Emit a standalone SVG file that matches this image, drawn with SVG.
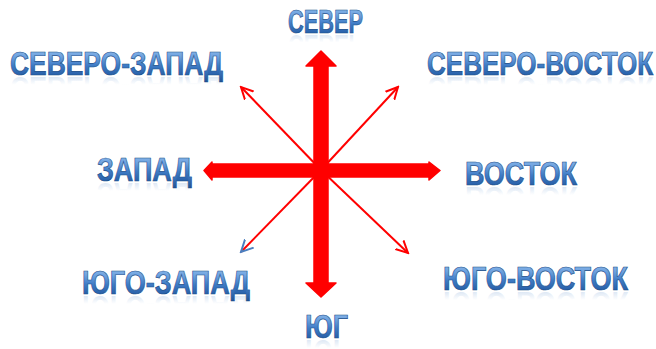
<svg xmlns="http://www.w3.org/2000/svg" xmlns:xlink="http://www.w3.org/1999/xlink" width="656" height="349" viewBox="0 0 656 349">
<style>
.lbl{font-family:"Liberation Sans",Arial,sans-serif;font-weight:bold;font-size:33px;text-anchor:middle}
.face{fill:url(#tg);stroke:#1d4f8c;stroke-width:0.7}
.refl{fill:url(#rg);stroke:none}
.thick{fill:#ff0000;stroke:#ff0000;stroke-width:1.5;stroke-linejoin:round}
.thin{stroke:#ff0000;stroke-width:2;fill:none}
</style>
<defs>
<linearGradient id="tg" x1="0" y1="0" x2="0" y2="1">
<stop offset="0" stop-color="#9cc4ee"/>
<stop offset="0.3" stop-color="#6fa3e0"/>
<stop offset="0.55" stop-color="#3f7cc6"/>
<stop offset="0.8" stop-color="#2a62aa"/>
<stop offset="1" stop-color="#1e4f90"/>
</linearGradient>
<linearGradient id="rg" x1="0" y1="0" x2="0" y2="1">
<stop offset="0" stop-color="#4f86c8" stop-opacity="0"/>
<stop offset="0.6" stop-color="#4f86c8" stop-opacity="0"/>
<stop offset="1" stop-color="#4f86c8" stop-opacity="0.35"/>
</linearGradient>
<marker id="ar" viewBox="0 0 14 14" refX="12" refY="7" markerWidth="14" markerHeight="14" markerUnits="userSpaceOnUse" orient="auto">
<path d="M0,1 L12,7 L0,13" fill="none" stroke="#ff0000" stroke-width="2"/>
</marker>
<marker id="ab" viewBox="0 0 14 14" refX="12" refY="7" markerWidth="14" markerHeight="14" markerUnits="userSpaceOnUse" orient="auto">
<path d="M0,1 L12,7 L0,13" fill="none" stroke="#4a7fc0" stroke-width="2"/>
</marker>
</defs>
<rect width="656" height="349" fill="#ffffff"/>
<g id="connectors">
<polygon class="thick" points="321,51 336,66 328,66 328,283 336,283 321,297 306,283 314,283 314,66 306,66"/>
<polygon class="thick" points="204,170.5 212,162 212,164 429,164 429,162 440,170.5 429,180 429,177 212,177 212,180"/>
<line class="thin" x1="321" y1="170" x2="241" y2="87" marker-end="url(#ar)"/>
<line class="thin" x1="321" y1="170" x2="398" y2="87" marker-end="url(#ar)"/>
<line class="thin" x1="321" y1="170" x2="241" y2="252" marker-end="url(#ab)"/>
<line class="thin" x1="321" y1="170" x2="408" y2="253" marker-end="url(#ar)"/>
</g>
<g id="n-sever" transform="translate(325.5,0) scale(0.66,1)">
<g class="face"><text id="t1" class="lbl" x="0" y="33" textLength="113.6" lengthAdjust="spacingAndGlyphs">СЕВЕР</text></g>
<use href="#t1" xlink:href="#t1" class="refl" transform="translate(0,68) scale(1,-1)"/>
</g>
<g id="n-severo-zapad" transform="translate(116.5,0) scale(0.738,1)">
<g class="face"><text id="t2" class="lbl" x="0" y="75" textLength="288.6" lengthAdjust="spacingAndGlyphs">СЕВЕРО-ЗАПАД</text></g>
<use href="#t2" xlink:href="#t2" class="refl" transform="translate(0,152) scale(1,-1)"/>
</g>
<g id="n-severo-vostok" transform="translate(540,0) scale(0.731,1)">
<g class="face"><text id="t3" class="lbl" x="0" y="75" textLength="309.2" lengthAdjust="spacingAndGlyphs">СЕВЕРО-ВОСТОК</text></g>
<use href="#t3" xlink:href="#t3" class="refl" transform="translate(0,152) scale(1,-1)"/>
</g>
<g id="n-zapad" transform="translate(144.5,0) scale(0.82,1)">
<g class="face"><text id="t4" class="lbl" x="0" y="181" textLength="115.9" lengthAdjust="spacingAndGlyphs">ЗАПАД</text></g>
<use href="#t4" xlink:href="#t4" class="refl" transform="translate(0,364) scale(1,-1)"/>
</g>
<g id="n-vostok" transform="translate(521,0) scale(0.78,1)">
<g class="face"><text id="t5" class="lbl" x="0" y="185" textLength="143.6" lengthAdjust="spacingAndGlyphs">ВОСТОК</text></g>
<use href="#t5" xlink:href="#t5" class="refl" transform="translate(0,372) scale(1,-1)"/>
</g>
<g id="n-yugo-zapad" transform="translate(166,0) scale(0.82,1)">
<g class="face"><text id="t6" class="lbl" x="0" y="294" textLength="204.9" lengthAdjust="spacingAndGlyphs">ЮГО-ЗАПАД</text></g>
<use href="#t6" xlink:href="#t6" class="refl" transform="translate(0,590) scale(1,-1)"/>
</g>
<g id="n-yugo-vostok" transform="translate(535.5,0) scale(0.795,1)">
<g class="face"><text id="t7" class="lbl" x="0" y="290" textLength="232.7" lengthAdjust="spacingAndGlyphs">ЮГО-ВОСТОК</text></g>
<use href="#t7" xlink:href="#t7" class="refl" transform="translate(0,582) scale(1,-1)"/>
</g>
<g id="n-yug" transform="translate(326.5,0) scale(0.81,1)">
<g class="face"><text id="t8" class="lbl" x="0" y="338" textLength="53.1" lengthAdjust="spacingAndGlyphs">ЮГ</text></g>
<use href="#t8" xlink:href="#t8" class="refl" transform="translate(0,678) scale(1,-1)"/>
</g>
</svg>
